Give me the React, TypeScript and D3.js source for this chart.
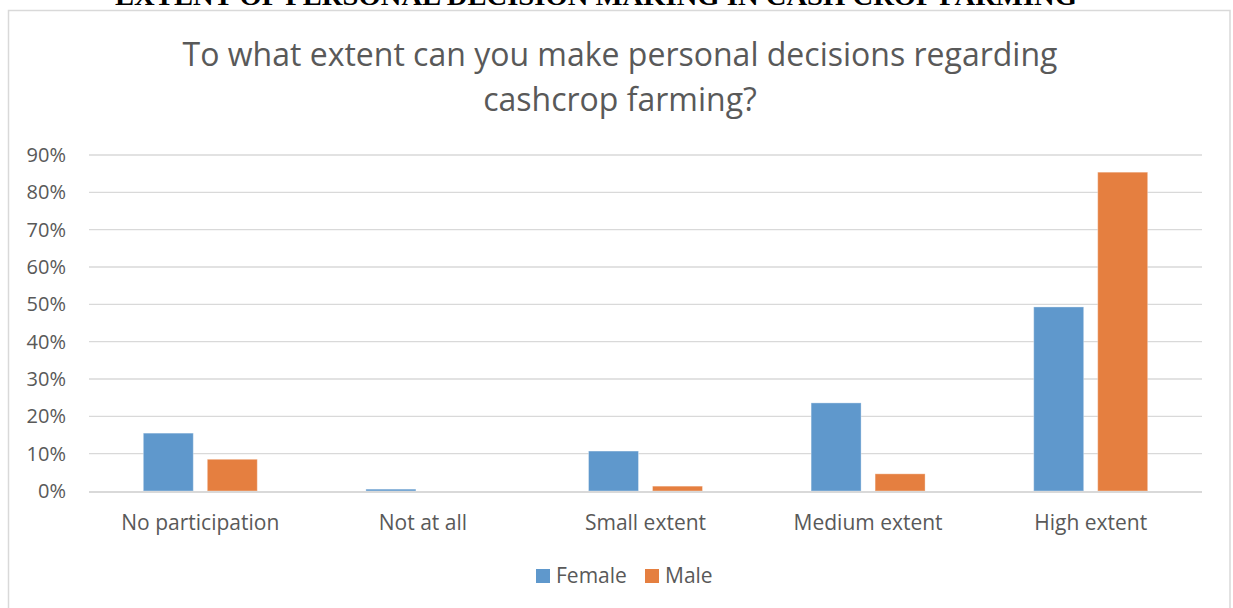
import React from "react";
import * as d3 from "d3";

const categories = ["No participation", "Not at all", "Small extent", "Medium extent", "High extent"];
const seriesNames = ["Female", "Male"];
const femaleValues = [0.155, 0.005, 0.107, 0.236, 0.493];
const maleValues = [0.085, 0.0, 0.013, 0.046, 0.854];
const yTicks = [0, 0.1, 0.2, 0.3, 0.4, 0.5, 0.6, 0.7, 0.8, 0.9];
const seriesColors = ["#5f98cc", "#e57f40"];

const W = 1233;
const H = 608;
const FONT = "'Open Sans', 'DejaVu Sans', sans-serif";
const TEXT = "#595959";

export default function App() {
  const left = 89;
  const right = 1202;
  const y = d3.scaleLinear().domain([0, 0.9]).range([491, 155]);
  const x0 = d3
    .scaleBand<string>()
    .domain(categories)
    .range([left, right])
    .paddingInner(0.488)
    .paddingOuter(0.244);
  const x1 = d3
    .scaleBand<string>()
    .domain(seriesNames)
    .range([0, x0.bandwidth()])
    .paddingInner(0.219);
  const values = [femaleValues, maleValues];
  const fmt = d3.format(".0%");

  return (
    <svg
      width={W}
      height={H}
      style={{ position: "absolute", left: 0, top: 0, background: "#fff" }}
    >
      <rect x={0} y={0} width={W} height={H} fill="#fff" />
      <text
        x={596}
        y={5}
        textAnchor="middle"
        fontFamily="'Liberation Serif', 'Times New Roman', serif"
        fontWeight="bold"
        fontSize={28}
        textLength={962}
        lengthAdjust="spacingAndGlyphs"
        fill="#000"
      >
        EXTENT OF PERSONAL DECISION MAKING IN CASH CROP FARMING
      </text>
      <rect x={8.5} y={10.5} width={1221.5} height={H} fill="none" stroke="#d9d9d9" strokeWidth={1.5} />

      <text x={620} y={66} textAnchor="middle" fontFamily={FONT} fontSize={32} fill={TEXT}>
        To what extent can you make personal decisions regarding
      </text>
      <text x={620} y={111} textAnchor="middle" fontFamily={FONT} fontSize={32} fill={TEXT}>
        cashcrop farming?
      </text>

      {yTicks.map((t) => (
        <g key={t}>
          {t > 0 && (
            <line x1={left} x2={right} y1={y(t)} y2={y(t)} stroke="#d9d9d9" strokeWidth={1.3} />
          )}
          <text
            x={66}
            y={y(t)}
            dy="0.35em"
            textAnchor="end"
            fontFamily={FONT}
            fontSize={20}
            fill={TEXT}
          >
            {fmt(t)}
          </text>
        </g>
      ))}

      {categories.map((c, i) => (
        <g key={c} transform={`translate(${x0(c)},0)`}>
          {seriesNames.map((s, j) => {
            const v = values[j][i];
            if (v <= 0) return null;
            return (
              <rect
                key={s}
                x={x1(s)}
                y={y(v)}
                width={x1.bandwidth()}
                height={y(0) - y(v)}
                fill={seriesColors[j]}
                stroke="rgba(255,255,255,0.35)"
                strokeWidth={1}
              />
            );
          })}
        </g>
      ))}

      <line x1={left} x2={right} y1={y(0) + 1} y2={y(0) + 1} stroke="#d9d9d9" strokeWidth={2} />

      {categories.map((c) => (
        <text
          key={c}
          x={(x0(c) as number) + x0.bandwidth() / 2}
          y={530}
          textAnchor="middle"
          fontFamily={FONT}
          fontSize={21}
          fill={TEXT}
        >
          {c}
        </text>
      ))}

      <g>
        <rect x={536} y={569} width={14} height={14} fill={seriesColors[0]} />
        <text x={556} y={583} fontFamily={FONT} fontSize={21} fill={TEXT}>
          {seriesNames[0]}
        </text>
        <rect x={645} y={569} width={14} height={14} fill={seriesColors[1]} />
        <text x={665} y={583} fontFamily={FONT} fontSize={21} fill={TEXT}>
          {seriesNames[1]}
        </text>
      </g>
    </svg>
  );
}
